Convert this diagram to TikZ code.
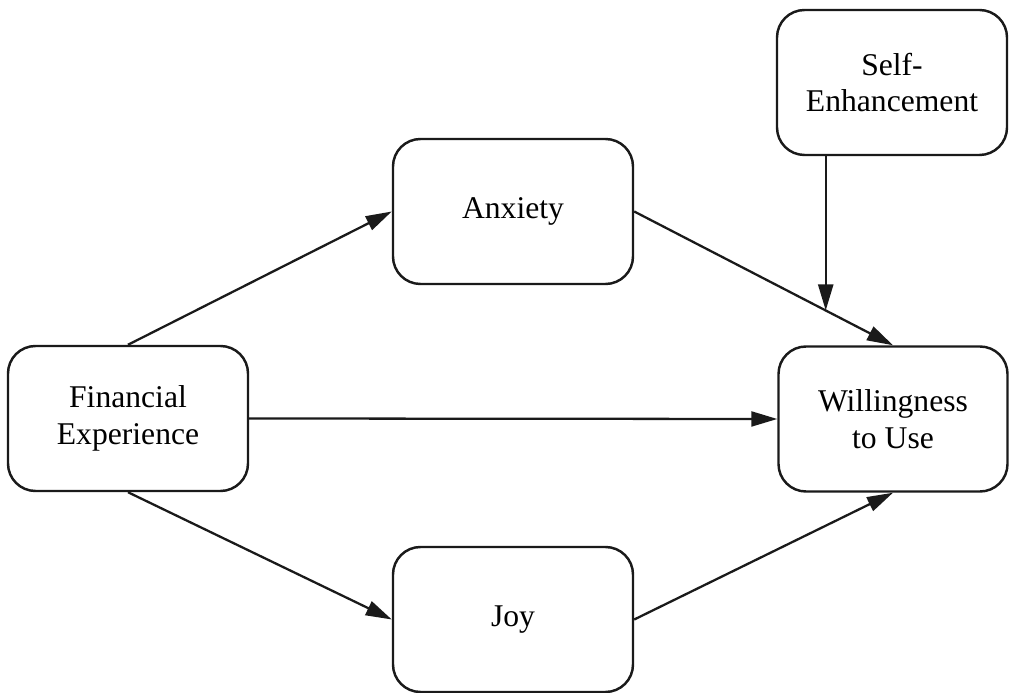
\documentclass[tikz,border=0pt]{standalone}
\usepackage{fontspec}
\setmainfont{Liberation Serif}
\usetikzlibrary{arrows.meta,calc}
\definecolor{rand}{HTML}{1A1A1A}
\tikzset{
  box/.style={draw=rand,line width=1.4pt,rounded corners=0.55cm,minimum width=4.8cm,minimum height=2.9cm,align=center,font=\fontsize{18}{21}\selectfont},
  pfeil/.style={-{Triangle[length=5.2mm,width=3mm]},rand,line width=1.3pt},
}

\begin{document}
\begin{tikzpicture}
  \useasboundingbox (0,0) rectangle (20.18,13.86);
  \node[box] (fin) at (2.56,5.49) {Financial\\Experience};
  \node[box] (anx) at (10.26,9.63) {Anxiety};
  \node[box] (joy) at (10.26,1.47) {Joy};
  \node[box,minimum width=4.58cm] (wtu) at (17.86,5.48) {Willingness\\to Use};
  \node[box,minimum width=4.6cm] (se) at (17.84,12.21) {Self-\\Enhancement};
  % Pfade
  \draw[pfeil] (fin.north) -- (anx.west);
  \draw[pfeil] (fin.east) -- (wtu.west);
  \draw[pfeil] (fin.south) -- (joy.west);
  \draw[pfeil] (anx.east) -- (wtu.north);
  \draw[pfeil] (joy.east) -- (wtu.south);
  % Moderator auf den Pfad Anxiety -> Willingness
  \coordinate (mod) at ($(anx.east)!0.74!(wtu.north)$);
  \draw[pfeil] (mod |- se.south) -- (mod);
\end{tikzpicture}
\end{document}
